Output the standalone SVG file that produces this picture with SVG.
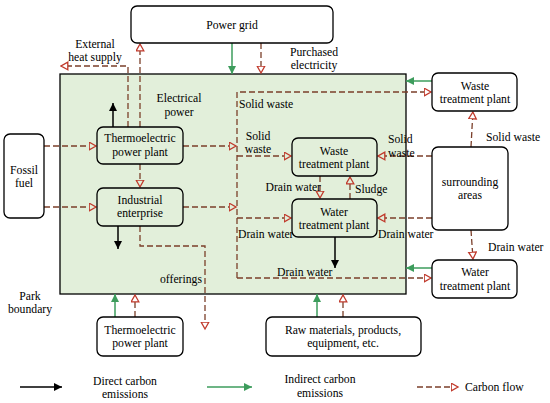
<svg xmlns="http://www.w3.org/2000/svg" width="550" height="403" viewBox="0 0 550 403">
<defs>
<style>
.box{fill:#fff;stroke:#000;stroke-width:1.3}
.ibox{fill:#e2efda;stroke:#000;stroke-width:1.3}
.t{font-family:"Liberation Serif","Times New Roman",serif;font-size:11.7px;fill:#000}
.m{text-anchor:middle}
.e{text-anchor:end}
.cf{fill:none;stroke:#7b3f2a;stroke-width:1.3;stroke-dasharray:6 3;marker-end:url(#ro)}
.ind{fill:none;stroke:#3d9c5c;stroke-width:1.5;marker-end:url(#gr)}
.dir{fill:none;stroke:#000;stroke-width:1.5;marker-end:url(#bk)}
</style>
<marker id="ro" markerWidth="9" markerHeight="10" refX="0.5" refY="4.5" orient="auto" markerUnits="userSpaceOnUse"><path d="M0.7,0.7 L7.5,4.5 L0.7,8.3 Z" fill="none" stroke="#c0392b" stroke-width="1.3"/></marker>
<marker id="gr" markerWidth="9" markerHeight="8" refX="8" refY="4" orient="auto" markerUnits="userSpaceOnUse"><path d="M0,0 L8,4 L0,8 Z" fill="#3d9c5c"/></marker>
<marker id="bk" markerWidth="9" markerHeight="8" refX="8" refY="4" orient="auto" markerUnits="userSpaceOnUse"><path d="M0,0 L8,4 L0,8 Z" fill="#000"/></marker>
</defs>
<rect x="0" y="0" width="550" height="403" fill="#fff"/>

<g id="park-boundary">
<rect x="60" y="74" width="346" height="220" fill="#e2efda" stroke="#000" stroke-width="1.3"/>
<text class="t m" x="30" y="300">Park</text>
<text class="t m" x="30" y="313">boundary</text>
</g>

<g id="connectors">
<path class="cf" d="M128,127 V66 H68"/>
<path class="cf" d="M140,127 V51"/>
<path class="cf" d="M261,43 V66"/>
<path class="cf" d="M237,278 V92 H424"/>
<path class="cf" d="M237,278 H424"/>
<path class="cf" d="M44,146 H89"/>
<path class="cf" d="M44,207 H89"/>
<path class="cf" d="M183,146 H229"/>
<path class="cf" d="M183,207 H229"/>
<path class="cf" d="M140,164 V180"/>
<path class="cf" d="M140,226 V246 H205 V322"/>
<path class="cf" d="M237,156 H284"/>
<path class="cf" d="M237,218 H284"/>
<path class="cf" d="M320,176 V191"/>
<path class="cf" d="M350,199 V184"/>
<path class="cf" d="M432,156 H385"/>
<path class="cf" d="M432,218 H385"/>
<path class="cf" d="M471,147 L472.5,119"/>
<path class="cf" d="M471,230 L472.5,252"/>
<path class="cf" d="M135,317 V302"/>
<path class="cf" d="M343,317 V302"/>
<path class="ind" d="M232,43 V74"/>
<path class="ind" d="M432,81 H406"/>
<path class="ind" d="M432,268 H406"/>
<path class="ind" d="M115,317 V294"/>
<path class="ind" d="M317,317 V294"/>
<path class="dir" d="M113,127 V103"/>
<path class="dir" d="M118,226 V249"/>
<path class="dir" d="M335,237 V268"/>
</g>

<g id="power-grid">
<rect class="box" x="131" y="6" width="202" height="37" rx="6"/>
<text class="t m" x="232" y="29">Power grid</text>
</g>
<g id="label-external-heat">
<text class="t m" x="95" y="48">External</text>
<text class="t m" x="95" y="61">heat supply</text>
</g>
<g id="label-purchased">
<text class="t m" x="314" y="56">Purchased</text>
<text class="t m" x="314" y="69">electricity</text>
</g>
<g id="label-electrical">
<text class="t m" x="179" y="102">Electrical</text>
<text class="t m" x="179" y="116">power</text>
</g>
<g id="labels-inner">
<text class="t" x="239" y="108">Solid waste</text>
<text class="t m" x="258" y="140">Solid</text>
<text class="t m" x="258" y="153">waste</text>
<text class="t e" x="321" y="191">Drain water</text>
<text class="t" x="355" y="193">Sludge</text>
<text class="t" x="238" y="238">Drain water</text>
<text class="t" x="378" y="238">Drain water</text>
<text class="t" x="277" y="276">Drain water</text>
<text class="t e" x="202" y="283">offerings</text>
<text class="t" x="388" y="143">Solid</text>
<text class="t" x="388" y="157">waste</text>
<text class="t" x="486" y="141">Solid waste</text>
<text class="t" x="488" y="251">Drain water</text>
</g>

<g id="fossil-fuel">
<rect class="box" x="4" y="134" width="40" height="84" rx="6"/>
<text class="t m" x="24" y="174">Fossil</text>
<text class="t m" x="24" y="187">fuel</text>
</g>
<g id="thermo-inner">
<rect class="ibox" x="97" y="127" width="86" height="37" rx="6"/>
<text class="t m" x="140" y="142">Thermoelectric</text>
<text class="t m" x="140" y="156">power plant</text>
</g>
<g id="industrial">
<rect class="ibox" x="97" y="188" width="86" height="38" rx="6"/>
<text class="t m" x="140" y="204">Industrial</text>
<text class="t m" x="140" y="217">enterprise</text>
</g>
<g id="waste-inner">
<rect class="ibox" x="292" y="138" width="85" height="38" rx="6"/>
<text class="t m" x="334" y="155">Waste</text>
<text class="t m" x="334" y="168">treatment plant</text>
</g>
<g id="water-inner">
<rect class="ibox" x="292" y="199" width="85" height="38" rx="6"/>
<text class="t m" x="334" y="216">Water</text>
<text class="t m" x="334" y="229">treatment plant</text>
</g>
<g id="waste-outer">
<rect class="box" x="432" y="73" width="85" height="38" rx="6"/>
<text class="t m" x="475" y="90">Waste</text>
<text class="t m" x="475" y="103">treatment plant</text>
</g>
<g id="surrounding">
<rect class="box" x="432" y="147" width="76" height="83" rx="6"/>
<text class="t m" x="470" y="186">surrounding</text>
<text class="t m" x="470" y="199">areas</text>
</g>
<g id="water-outer">
<rect class="box" x="432" y="260" width="85" height="38" rx="6"/>
<text class="t m" x="475" y="276">Water</text>
<text class="t m" x="475" y="290">treatment plant</text>
</g>
<g id="thermo-outer">
<rect class="box" x="97" y="317" width="86" height="39" rx="6"/>
<text class="t m" x="140" y="334">Thermoelectric</text>
<text class="t m" x="140" y="347">power plant</text>
</g>
<g id="raw-materials">
<rect class="box" x="266" y="317" width="155" height="39" rx="6"/>
<text class="t m" x="343" y="334">Raw materials, products,</text>
<text class="t m" x="343" y="347">equipment, etc.</text>
</g>

<g id="legend">
<path class="dir" d="M20,387 H62"/>
<text class="t m" x="125" y="385">Direct carbon</text>
<text class="t m" x="125" y="398">emissions</text>
<path class="ind" d="M207,387 H252"/>
<text class="t m" x="320" y="383">Indirect carbon</text>
<text class="t m" x="320" y="397">emissions</text>
<path class="cf" d="M417,387 H451"/>
<text class="t" x="465" y="391">Carbon flow</text>
</g>
</svg>
